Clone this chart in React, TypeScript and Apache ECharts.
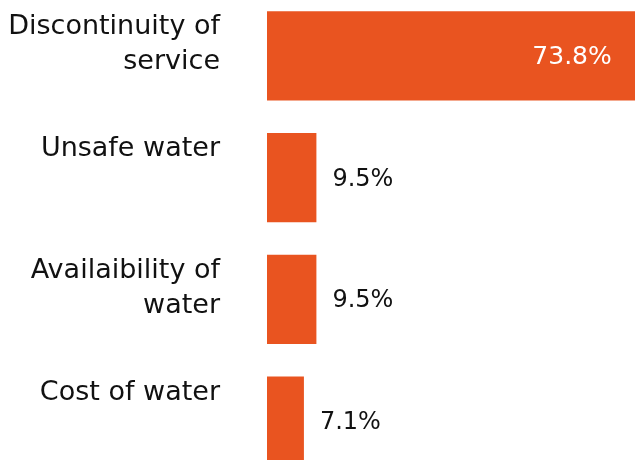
import React, { useEffect, useRef } from "react";
import * as echarts from "echarts";

const categories = ["Discontinuity of\nservice", "Unsafe water", "Availaibility of\nwater", "Cost of water"];
const values = [73.8, 9.5, 9.5, 7.1];
const insideThreshold = 50;

const FONT = "'DejaVu Sans', sans-serif";
const ORANGE = "#E95420";

export default function App() {
  const ref = useRef<HTMLDivElement>(null);
  useEffect(() => {
    document.body.style.margin = "0";
    const chart = echarts.init(ref.current!, null, { renderer: "svg" });
    chart.setOption({
      animation: false,
      grid: { left: 267, top: -5, width: 416, height: 487, outerBoundsMode: "none", containLabel: false },
      xAxis: { type: "value", min: 0, max: 80, show: false },
      yAxis: {
        type: "category",
        data: categories,
        inverse: true,
        axisLine: { show: false },
        axisTick: { show: false },
        axisLabel: { show: false },
        splitLine: { show: false },
      },
      series: [
        {
          type: "bar",
          barCategoryGap: "26.7%",
          barGap: "-100%",
          itemStyle: { color: ORANGE },
          data: values.map((v) =>
            v > insideThreshold
              ? {
                  value: v,
                  label: { position: "insideRight", distance: 39, color: "#ffffff", fontSize: 25 },
                }
              : { value: v }
          ),
          label: {
            show: true,
            position: "right",
            distance: 16,
            color: "#111111",
            fontSize: 24,
            fontFamily: FONT,
            formatter: (p: any) => `${p.value}%`,
          },
        },
        {
          type: "bar",
          barCategoryGap: "26.7%",
          barGap: "-100%",
          silent: true,
          itemStyle: { color: "rgba(0,0,0,0)" },
          data: values,
          label: {
            show: true,
            position: [-47, -4],
            align: "right",
            verticalAlign: "top",
            color: "#111111",
            fontSize: 27,
            lineHeight: 35,
            fontFamily: FONT,
            formatter: (p: any) => categories[p.dataIndex],
          },
        },
      ],
    });
    return () => chart.dispose();
  }, []);
  return <div ref={ref} style={{ position: "fixed", left: 0, top: 0, width: 635, height: 460 }} />;
}
